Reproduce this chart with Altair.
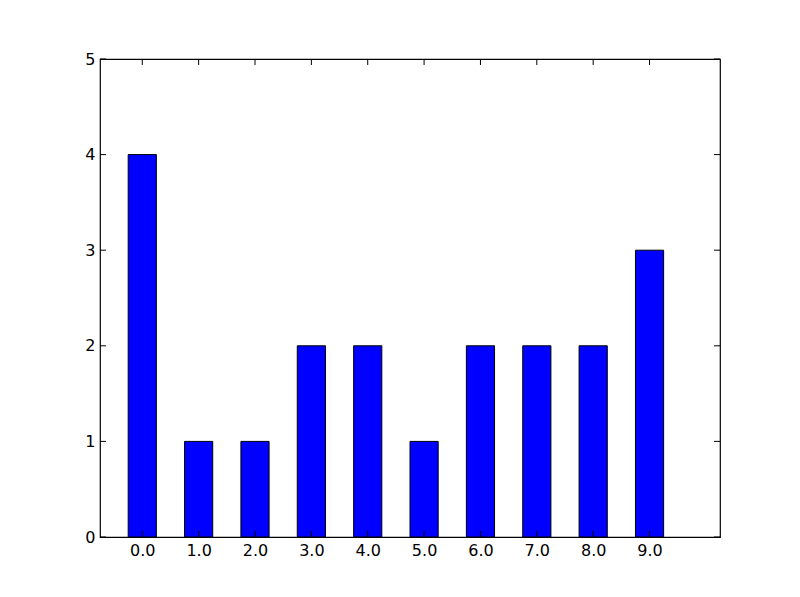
import altair as alt
import pandas as pd

categories = [0, 1, 2, 3, 4, 5, 6, 7, 8, 9]
counts = [4, 1, 1, 2, 2, 1, 2, 2, 2, 3]
y_ticks = [0, 1, 2, 3, 4, 5]

W, H = 620, 478
FONT = "DejaVu Sans"

bars_df = pd.DataFrame({"x": categories, "count": counts})
xt_df = pd.DataFrame({"x": categories})
yt_df = pd.DataFrame({"y": y_ticks})

xscale = alt.Scale(domain=[-0.75, 10.25], nice=False, zero=False)
yscale = alt.Scale(domain=[0, 5], nice=False)

bars = alt.Chart(bars_df).transform_calculate(
    x0="datum.x - 0.25", x1="datum.x + 0.25"
).mark_bar(color="#0000ff", stroke="black", strokeWidth=1).encode(
    x=alt.X("x0:Q", scale=xscale,
            axis=alt.Axis(values=categories, format=".1f", ticks=False, domain=False,
                          grid=False, labelFont=FONT, labelFontSize=16,
                          labelColor="black", labelPadding=5, title=None,
                          labelFlush=False)),
    x2="x1:Q",
    y=alt.Y("count:Q", scale=yscale,
            axis=alt.Axis(values=y_ticks, format="d", ticks=False, domain=False, grid=False,
                          labelFont=FONT, labelFontSize=16, labelColor="black",
                          labelPadding=5, title=None, labelFlush=False)),
    y2=alt.datum(0),
)

tick_len = 6
ytl = alt.Chart(yt_df).mark_rule(color="black", strokeWidth=1).encode(
    y=alt.Y("y:Q", scale=yscale), x=alt.value(0), x2=alt.value(tick_len))
ytr = alt.Chart(yt_df).mark_rule(color="black", strokeWidth=1).encode(
    y=alt.Y("y:Q", scale=yscale), x=alt.value(W - tick_len), x2=alt.value(W))
xtb = alt.Chart(xt_df).mark_rule(color="black", strokeWidth=1).encode(
    x=alt.X("x:Q", scale=xscale), y=alt.value(H - tick_len), y2=alt.value(H))
xtt = alt.Chart(xt_df).mark_rule(color="black", strokeWidth=1).encode(
    x=alt.X("x:Q", scale=xscale), y=alt.value(0), y2=alt.value(tick_len))

chart = alt.layer(bars, ytl, ytr, xtb, xtt).properties(
    width=W, height=H,
    autosize=alt.AutoSizeParams(type="none"),
    padding={"left": 92, "top": 51, "right": 72, "bottom": 52},
).configure(background="white").configure_view(stroke="black", strokeWidth=1.2)

chart.save("out.html", embed_options={"renderer": "svg", "actions": False})
